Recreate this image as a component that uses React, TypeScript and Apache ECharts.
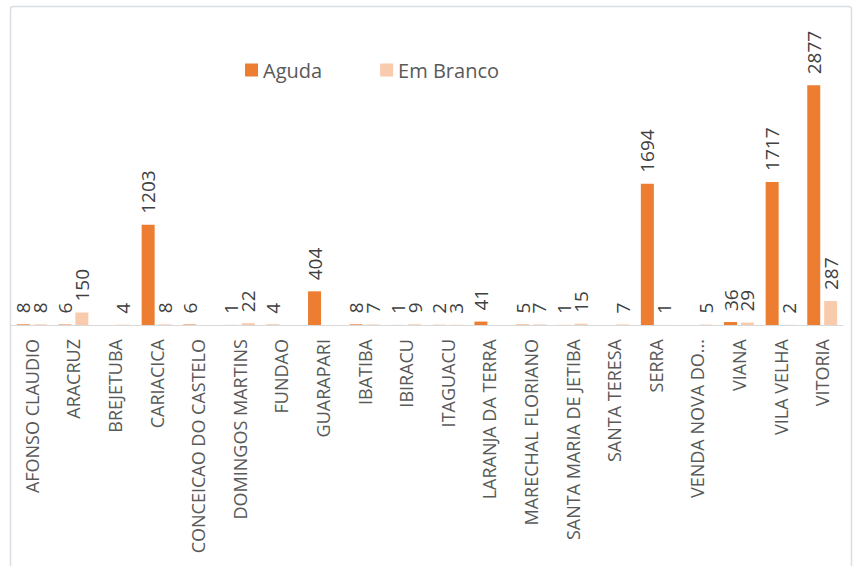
import React, { useEffect, useRef } from "react";
import * as echarts from "echarts";

const categories = [
  "AFONSO CLAUDIO",
  "ARACRUZ",
  "BREJETUBA",
  "CARIACICA",
  "CONCEICAO DO CASTELO",
  "DOMINGOS MARTINS",
  "FUNDAO",
  "GUARAPARI",
  "IBATIBA",
  "IBIRACU",
  "ITAGUACU",
  "LARANJA DA TERRA",
  "MARECHAL FLORIANO",
  "SANTA MARIA DE JETIBA",
  "SANTA TERESA",
  "SERRA",
  "VENDA NOVA DO...",
  "VIANA",
  "VILA VELHA",
  "VITORIA",
];

const aguda = [8, 6, null, 1203, 6, 1, 4, 404, 8, 1, 2, 41, 5, 1, null, 1694, null, 36, 1717, 2877];
const emBranco = [8, 150, 4, 8, null, 22, null, null, 7, 9, 3, null, 7, 15, 7, 1, 5, 29, 2, 287];

const FONT = "'Open Sans', 'Noto Sans', sans-serif";

export default function App() {
  const ref = useRef<HTMLDivElement>(null);
  useEffect(() => {
    if (!ref.current) return;
    const chart = echarts.init(ref.current, undefined, { renderer: "svg" });
    const labelCfg = {
      show: true,
      position: "top",
      rotate: 90,
      align: "left",
      verticalAlign: "middle",
      distance: 11,
      fontSize: 19,
      color: "#404040",
      fontFamily: FONT,
    };
    chart.setOption({
      animation: false,
      backgroundColor: "#ffffff",
      textStyle: { fontFamily: FONT },
      graphic: [
        {
          type: "rect",
          shape: { x: 10.5, y: 6.5, width: 841, height: 580, r: 3 },
          style: { fill: "none", stroke: "#d9dde3", lineWidth: 1.5 },
          silent: true,
        },
      ],
      legend: {
        left: 240,
        top: 55,
        itemWidth: 13,
        itemHeight: 13,
        itemGap: 58,
        icon: "rect",
        textStyle: { fontSize: 20, color: "#595959", fontFamily: FONT },
        data: ["Aguda", "Em Branco"],
      },
      grid: { left: 11, right: 16, top: 75, bottom: 241, containLabel: false },
      xAxis: {
        type: "category",
        data: categories,
        axisLine: { show: true, lineStyle: { color: "#d9d9d9", width: 1 } },
        axisTick: { show: false },
        axisLabel: {
          rotate: 90,
          interval: 0,
          margin: 14,
          fontSize: 18,
          color: "#595959",
          fontFamily: FONT,
        },
      },
      yAxis: {
        type: "value",
        min: 0,
        max: 3000,
        show: false,
        splitLine: { show: false },
      },
      series: [
        {
          name: "Aguda",
          type: "bar",
          data: aguda,
          barWidth: 13,
          barGap: "30%",
          itemStyle: { color: "#ED7D31" },
          label: labelCfg,
        },
        {
          name: "Em Branco",
          type: "bar",
          data: emBranco,
          barWidth: 13,
          itemStyle: { color: "#F8CBAD" },
          label: labelCfg,
        },
      ],
    });
    return () => chart.dispose();
  }, []);
  return (
    <div
      ref={ref}
      style={{ position: "fixed", left: 0, top: 0, width: 859, height: 566 }}
    />
  );
}
